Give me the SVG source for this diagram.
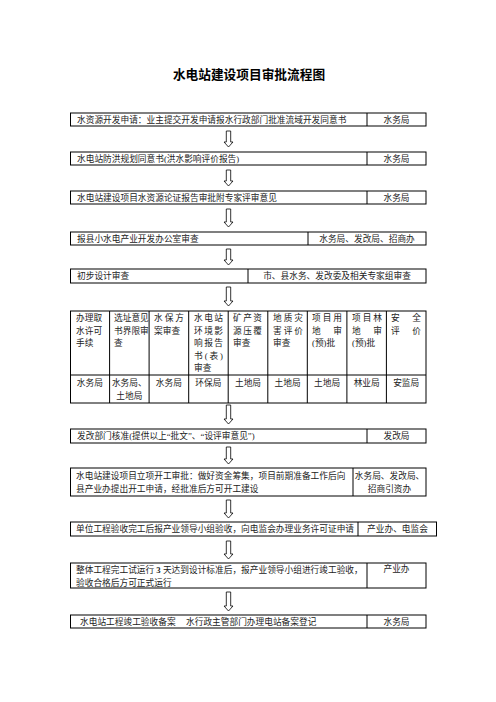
<svg xmlns="http://www.w3.org/2000/svg" width="496" height="702" viewBox="0 0 496 702">
<style>
.bx{fill:#fff;stroke:#000;stroke-width:1}
.ln{stroke:#000;stroke-width:1;fill:none}
.t{font-family:"Liberation Serif","Noto Sans CJK SC",serif;font-size:8.7px;fill:#222}
.c{text-anchor:middle}
.ttl{font-family:"Liberation Sans","Noto Sans CJK SC",sans-serif;font-size:12.7px;font-weight:bold;fill:#000;text-anchor:middle}
.ar{fill:#fff;stroke:#000;stroke-width:0.8;stroke-linejoin:miter}
</style>
<rect width="496" height="702" fill="#fff"/>
<text class="ttl" x="249" y="79">水电站建设项目审批流程图</text>

<g id="connectors">
<path class="ar" d="M226.3 131H230.7V142H233L228.5 147L224 142H226.3Z"/>
<path class="ar" d="M226.3 170H230.7V181H233L228.5 186L224 181H226.3Z"/>
<path class="ar" d="M226.3 209H230.7V222H233L228.5 227L224 222H226.3Z"/>
<path class="ar" d="M226.3 249H230.7V260H233L228.5 265L224 260H226.3Z"/>
<path class="ar" d="M226.3 287H230.7V301H233L228.5 306L224 301H226.3Z"/>
<path class="ar" d="M226.3 405H230.7V419H233L228.5 424L224 419H226.3Z"/>
<path class="ar" d="M226.3 447H230.7V459H233L228.5 464L224 459H226.3Z"/>
<path class="ar" d="M226.3 500H230.7V513H233L228.5 518L224 513H226.3Z"/>
<path class="ar" d="M226.3 541H230.7V554H233L228.5 559L224 554H226.3Z"/>
<path class="ar" d="M226.3 592H230.7V606H233L228.5 611L224 606H226.3Z"/>
</g>

<g id="n1">
<rect class="bx" x="70.5" y="113" width="355.5" height="13"/>
<line class="ln" x1="367" y1="113" x2="367" y2="126"/>
<text class="t" x="77" y="122.5">水资源开发申请：业主提交开发申请报水行政部门批准流域开发同意书</text>
<text class="t c" x="396.5" y="122.5">水务局</text>
</g>

<g id="n2">
<rect class="bx" x="70.5" y="152" width="355.5" height="13"/>
<line class="ln" x1="367" y1="152" x2="367" y2="165"/>
<text class="t" x="77" y="161.5">水电站防洪规划同意书(洪水影响评价报告)</text>
<text class="t c" x="396.5" y="161.5">水务局</text>
</g>

<g id="n3">
<rect class="bx" x="70.5" y="191" width="355.5" height="13"/>
<line class="ln" x1="367" y1="191" x2="367" y2="204"/>
<text class="t" x="77" y="200.5">水电站建设项目水资源论证报告审批附专家评审意见</text>
<text class="t c" x="396.5" y="200.5">水务局</text>
</g>

<g id="n4">
<rect class="bx" x="70.5" y="232" width="355.5" height="13"/>
<line class="ln" x1="308" y1="232" x2="308" y2="245"/>
<text class="t" x="77" y="241.5">报县小水电产业开发办公室审查</text>
<text class="t c" x="367" y="241.5">水务局、发改局、招商办</text>
</g>

<g id="n5">
<rect class="bx" x="70.5" y="269" width="355.5" height="14"/>
<line class="ln" x1="248" y1="269" x2="248" y2="283"/>
<text class="t" x="77" y="279">初步设计审查</text>
<text class="t c" x="337" y="279">市、县水务、发改委及相关专家组审查</text>
</g>

<g id="n6">
<rect class="bx" x="70.5" y="311" width="355.5" height="92"/>
<line class="ln" x1="70.5" y1="375" x2="426" y2="375"/>
<line class="ln" x1="109.6" y1="311" x2="109.6" y2="403"/>
<line class="ln" x1="149.1" y1="311" x2="149.1" y2="403"/>
<line class="ln" x1="188.7" y1="311" x2="188.7" y2="403"/>
<line class="ln" x1="228.2" y1="311" x2="228.2" y2="403"/>
<line class="ln" x1="267.8" y1="311" x2="267.8" y2="403"/>
<line class="ln" x1="307.3" y1="311" x2="307.3" y2="403"/>
<line class="ln" x1="346.9" y1="311" x2="346.9" y2="403"/>
<line class="ln" x1="386.4" y1="311" x2="386.4" y2="403"/>

<text class="t" x="76" y="321">办理取</text>
<text class="t" x="76" y="333.5">水许可</text>
<text class="t" x="76" y="346">手续</text>

<text class="t" x="114" y="321">选址意见</text>
<text class="t" x="114" y="333.5">书界限审</text>
<text class="t" x="114" y="346">查</text>

<text class="t" x="154" y="321" textLength="30" lengthAdjust="spacing">水保方</text>
<text class="t" x="154" y="333.5">案审查</text>

<text class="t" x="194" y="321" textLength="29" lengthAdjust="spacing">水电站</text>
<text class="t" x="194" y="333.5" textLength="29" lengthAdjust="spacing">环境影</text>
<text class="t" x="194" y="346" textLength="29" lengthAdjust="spacing">响报告</text>
<text class="t" x="194" y="358.5" textLength="29" lengthAdjust="spacing">书(表)</text>
<text class="t" x="194" y="371">审查</text>

<text class="t" x="233" y="321" textLength="29" lengthAdjust="spacing">矿产资</text>
<text class="t" x="233" y="333.5" textLength="29" lengthAdjust="spacing">源压覆</text>
<text class="t" x="233" y="346">审查</text>

<text class="t" x="273" y="321" textLength="30" lengthAdjust="spacing">地质灾</text>
<text class="t" x="273" y="333.5" textLength="30" lengthAdjust="spacing">害评价</text>
<text class="t" x="273" y="346">审查</text>

<text class="t" x="312" y="321" textLength="30" lengthAdjust="spacing">项目用</text>
<text class="t" x="312" y="333.5" textLength="30" lengthAdjust="spacing">地审</text>
<text class="t" x="312" y="346">(预)批</text>

<text class="t" x="352" y="321" textLength="30" lengthAdjust="spacing">项目林</text>
<text class="t" x="352" y="333.5" textLength="30" lengthAdjust="spacing">地审</text>
<text class="t" x="352" y="346">(预)批</text>

<text class="t" x="391" y="321" textLength="30" lengthAdjust="spacing">安全</text>
<text class="t" x="391" y="333.5" textLength="30" lengthAdjust="spacing">评价</text>

<text class="t c" x="89.8" y="386">水务局</text>
<text class="t c" x="129.3" y="386">水务局、</text>
<text class="t c" x="129.3" y="399">土地局</text>
<text class="t c" x="168.9" y="386">水务局</text>
<text class="t c" x="208.4" y="386">环保局</text>
<text class="t c" x="248" y="386">土地局</text>
<text class="t c" x="287.6" y="386">土地局</text>
<text class="t c" x="327.1" y="386">土地局</text>
<text class="t c" x="366.7" y="386">林业局</text>
<text class="t c" x="406.2" y="386">安监局</text>
</g>

<g id="n7">
<rect class="bx" x="70.5" y="429" width="355.5" height="14"/>
<line class="ln" x1="367" y1="429" x2="367" y2="443"/>
<text class="t" x="77" y="439">发改部门核准(提供以上“批文”、“设评审意见”)</text>
<text class="t c" x="396.5" y="439">发改局</text>
</g>

<g id="n8">
<rect class="bx" x="70.5" y="468" width="355.5" height="28"/>
<line class="ln" x1="353" y1="468" x2="353" y2="496"/>
<text class="t" x="76" y="479">水电站建设项目立项开工审批：做好资金筹集，项目前期准备工作后向</text>
<text class="t" x="76" y="492">县产业办提出开工申请，经批准后方可开工建设</text>
<text class="t c" x="389.5" y="479">水务局、发改局、</text>
<text class="t c" x="389.5" y="492">招商引资办</text>
</g>

<g id="n9">
<rect class="bx" x="70.5" y="522" width="366" height="14"/>
<line class="ln" x1="358" y1="522" x2="358" y2="536"/>
<text class="t" x="76" y="532">单位工程验收完工后报产业领导小组验收，向电监会办理业务许可证申请</text>
<text class="t c" x="397.5" y="532">产业办、电监会</text>
</g>

<g id="n10">
<rect class="bx" x="70.5" y="563" width="355.5" height="25"/>
<line class="ln" x1="367" y1="563" x2="367" y2="588"/>
<text class="t" x="76" y="572.5">整体工程完工试运行 <tspan font-weight="bold">3</tspan> 天达到设计标准后，报产业领导小组进行竣工验收，</text>
<text class="t" x="76" y="585.5">验收合格后方可正式运行</text>
<text class="t c" x="396.5" y="572">产业办</text>
</g>

<g id="n11">
<rect class="bx" x="70.5" y="615" width="355.5" height="13"/>
<line class="ln" x1="367" y1="615" x2="367" y2="628"/>
<text class="t" x="80" y="624.5">水电站工程竣工验收备案</text>
<text class="t" x="186" y="624.5">水行政主管部门办理电站备案登记</text>
<text class="t c" x="396.5" y="624.5">水务局</text>
</g>
</svg>
